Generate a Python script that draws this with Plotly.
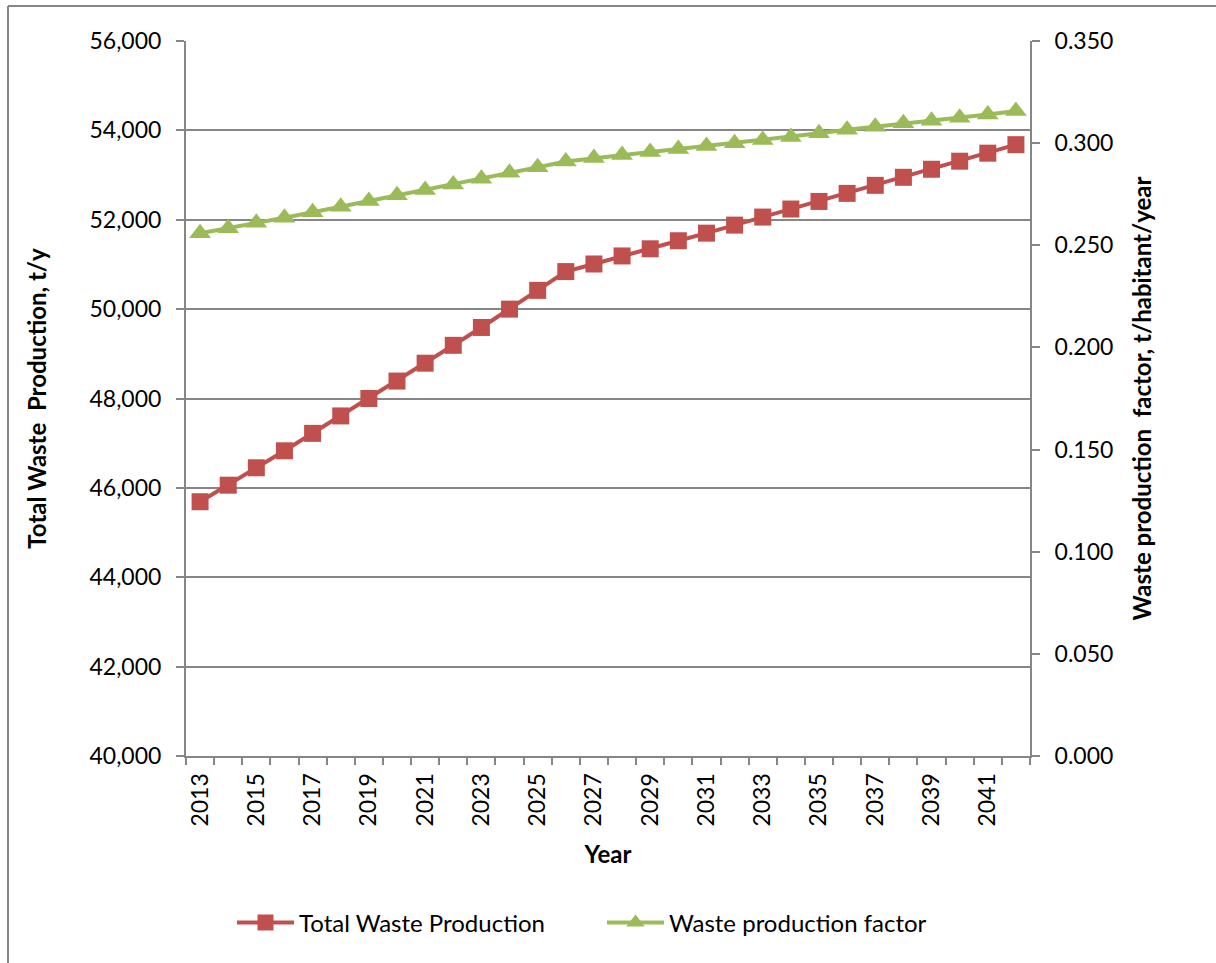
import plotly.graph_objects as go

# Projection years
years = [2013, 2014, 2015, 2016, 2017, 2018, 2019, 2020, 2021, 2022,
         2023, 2024, 2025, 2026, 2027, 2028, 2029, 2030, 2031, 2032,
         2033, 2034, 2035, 2036, 2037, 2038, 2039, 2040, 2041, 2042]

# Total waste production, t/y
total_waste = [45690, 46060, 46450, 46830, 47220, 47610, 48000, 48390, 48790, 49190,
               49590, 50000, 50420, 50840, 51010, 51190, 51350, 51530, 51700, 51880,
               52060, 52240, 52410, 52590, 52770, 52950, 53130, 53310, 53490, 53680]

# Waste production factor, t/habitant/year
waste_factor = [0.2559, 0.2583, 0.2610, 0.2635, 0.2662, 0.2689, 0.2717, 0.2745, 0.2771, 0.2798,
                0.2826, 0.2855, 0.2882, 0.2910, 0.2927, 0.2942, 0.2957, 0.2971, 0.2986, 0.3000,
                0.3015, 0.3030, 0.3048, 0.3066, 0.3080, 0.3097, 0.3110, 0.3124, 0.3140, 0.3157]

year_labels = ["2013", "2015", "2017", "2019", "2021", "2023", "2025",
               "2027", "2029", "2031", "2033", "2035", "2037", "2039", "2041"]
year_label_pos = [2013, 2015, 2017, 2019, 2021, 2023, 2025,
                  2027, 2029, 2031, 2033, 2035, 2037, 2039, 2041]

RED = "#C0504D"
GREEN = "#9BBB59"
AXIS = "#868686"
FONT = "Lato, Open Sans, sans-serif"

fig = go.Figure()

fig.add_trace(go.Scatter(
    x=years, y=total_waste, name="Total Waste Production",
    mode="lines+markers",
    line=dict(color=RED, width=4),
    marker=dict(symbol="square", size=17, color=RED),
    yaxis="y",
))

fig.add_trace(go.Scatter(
    x=years, y=waste_factor, name="Waste production factor",
    mode="lines+markers",
    line=dict(color=GREEN, width=4),
    marker=dict(symbol="triangle-up", size=19, color=GREEN),
    yaxis="y2",
))

# category boundaries for the tick marks between years
boundaries = [y - 0.5 for y in years] + [years[-1] + 0.5]

fig.update_layout(
    width=1216, height=963,
    margin=dict(l=186, r=186, t=41, b=207),
    paper_bgcolor="white", plot_bgcolor="white",
    font=dict(family=FONT, size=23, color="#000000"),
    showlegend=True,
    legend=dict(orientation="h", x=0.0545, xanchor="left", y=-0.2336, yanchor="middle",
                font=dict(size=24), tracegroupgap=0,
                itemwidth=57, entrywidth=298, entrywidthmode="pixels",
                bgcolor="rgba(0,0,0,0)"),
    xaxis=dict(
        range=[2012.5, 2042.5],
        tickmode="array", tickvals=year_label_pos, ticktext=year_labels,
        tickangle=-90, ticks="", ticklen=0,
        showgrid=False, zeroline=False,
        showline=True, linecolor=AXIS, linewidth=2,
        minor=dict(tickmode="array", tickvals=boundaries, ticks="outside",
                   ticklen=7, tickcolor=AXIS, tickwidth=2, showgrid=False),
        title=dict(text="<b>Year</b>", font=dict(size=24), standoff=21),
        ticklabelstandoff=6,
    ),
    yaxis=dict(
        range=[40000, 56000], dtick=2000, tickformat=",d",
        showgrid=True, gridcolor=AXIS, gridwidth=2,
        zeroline=False,
        showline=True, linecolor=AXIS, linewidth=2,
        ticks="outside", ticklen=8, tickcolor=AXIS, tickwidth=2,
        ticklabelstandoff=10,
        title=dict(text="<b>Total Waste  Production, t/y</b>", font=dict(size=24), standoff=36),
    ),
    yaxis2=dict(
        range=[0, 0.35], dtick=0.05, tickformat=".3f",
        overlaying="y", side="right",
        showgrid=False, zeroline=False,
        showline=True, linecolor=AXIS, linewidth=2,
        ticks="outside", ticklen=8, tickcolor=AXIS, tickwidth=2,
        ticklabelstandoff=10,
        title=dict(text="<b>Waste production  factor, t/habitant/year</b>", font=dict(size=24), standoff=22),
    ),
)

# outer chart-area border
fig.add_shape(type="line", xref="paper", yref="paper",
              x0=-0.2109, x1=-0.2109, y0=1.049, y1=-0.30,
              line=dict(color=AXIS, width=2))
fig.add_shape(type="line", xref="paper", yref="paper",
              x0=-0.2109, x1=1.25, y0=1.049, y1=1.049,
              line=dict(color=AXIS, width=2))

fig.write_html("out.html")
